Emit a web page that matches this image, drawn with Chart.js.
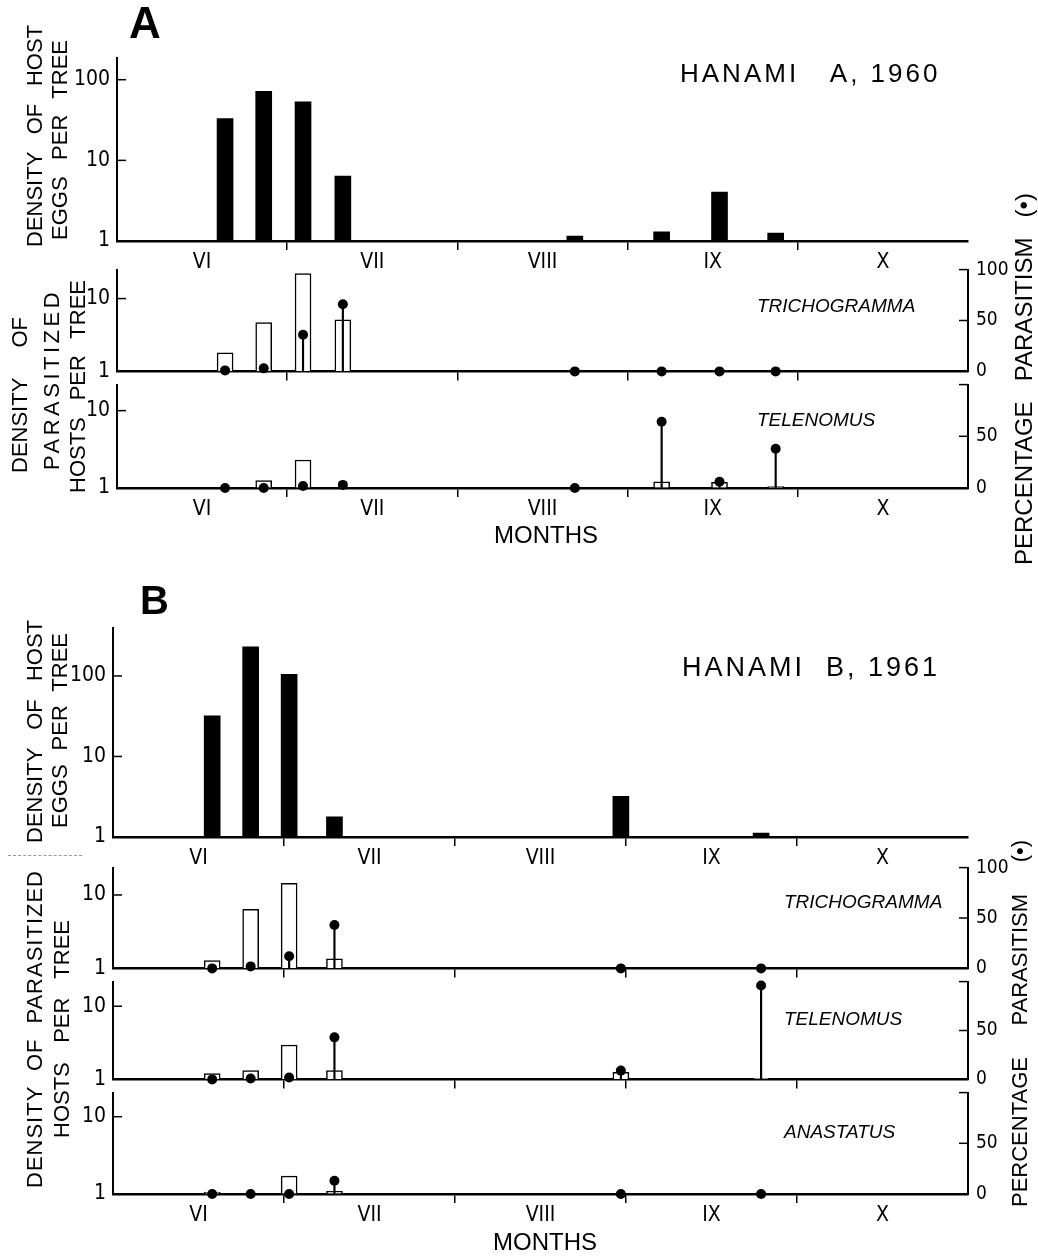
<!DOCTYPE html>
<html>
<head>
<meta charset="utf-8">
<script src="https://cdn.jsdelivr.net/npm/chart.js@4.4.1/dist/chart.umd.min.js"></script>
<style>
body { margin: 0; background: #fff; }
#page { position: relative; width: 1038px; height: 1257px; overflow: hidden; font-family: 'Liberation Sans', Arial, sans-serif; color: #000; }
canvas { position: absolute; left: 0; }
.txt { position: absolute; white-space: nowrap; line-height: 1; }
.vt { position: absolute; line-height: 1; transform-origin: 0 0; transform: rotate(-90deg); text-align: justify; text-align-last: justify; }
</style>
</head>
<body>
<div id="page"></div>
<script>
var months = ["VI", "VII", "VIII", "IX", "X"];

// A: Hanami A, 1960 (x = months since start of June)
var datesA = [0.635, 0.862, 1.093, 1.327, 2.69, 3.2, 3.54, 3.87];
var hostA = [33, 72, 53, 6.4, 1.15, 1.3, 4.05, 1.25];
var trichoA = [1.8, 4.7, 22, 5.1, null, null, null, null];
var trichoPctA = [1, 3, 36, 66, 0, 0, 0, 0];
var telenoA = [null, 1.25, 2.3, null, null, 1.2, 1.18, 1.04];
var telenoPctA = [0, 0, 2, 3, 0, 64, 6, 38];

// B: Hanami B, 1961
var datesB = [0.58, 0.805, 1.03, 1.295, 2.97, 3.79];
var hostB = [32, 229, 105, 1.78, 3.2, 1.12];
var trichoB = [1.28, 6.4, 14.4, 1.35, null, null];
var trichoPctB = [0, 2, 12, 43, 0, 0];
var telenoB = [1.2, 1.32, 2.95, 1.32, 1.25, 1.03];
var telenoPctB = [0, 1, 2, 43, 9, 96];
var anaB = [1.05, null, 1.7, 1.08, null, null];
var anaPctB = [0, 0, 0, 13, 0, 0];

var page = document.getElementById("page");
Chart.defaults.color = "#000";
Chart.defaults.font.family = "'Liberation Sans Narrow', 'DejaVu Sans Condensed', 'Liberation Sans', sans-serif";
Chart.defaults.font.size = 21;

// small tick marks pointing into the plot
var inTicks = {
    id: "inTicks",
    afterDraw: function(chart) {
        var ctx = chart.ctx, area = chart.chartArea;
        ctx.save();
        ctx.strokeStyle = "#000";
        ctx.lineWidth = 1.5;
        var y = chart.scales.y;
        [10, 100].forEach(function(v) {
            if (v < y.max) {
                var p = y.getPixelForValue(v);
                ctx.beginPath(); ctx.moveTo(area.left, p); ctx.lineTo(area.left + 9, p); ctx.stroke();
            }
        });
        var y2 = chart.scales.y2;
        if (y2) {
            [50, 100].forEach(function(v) {
                var p = y2.getPixelForValue(v);
                ctx.beginPath(); ctx.moveTo(area.right - 9, p); ctx.lineTo(area.right, p); ctx.stroke();
            });
        }
        ctx.restore();
    }
};

function pairs(xs, ys) {
    return xs.map(function(x, i) { return {x: x, y: ys[i]}; });
}

function makePlot(p) {
    var padTop = 12;
    var xh = p.months ? 42 : 14;
    var canvas = document.createElement("canvas");
    canvas.width = 1038;
    canvas.height = padTop + (p.bottom - p.top) + xh;
    canvas.style.top = (p.top - padTop) + "px";
    page.appendChild(canvas);

    var datasets = [];
    if (p.pct) {
        datasets.push({type: "scatter", yAxisID: "y2", data: pairs(p.dates, p.pct), pointRadius: 5,
            pointBackgroundColor: "#000", pointBorderWidth: 0, clip: false, order: 0});
        datasets.push({type: "bar", yAxisID: "y2", data: pairs(p.dates, p.pct), backgroundColor: "#000",
            barThickness: 1.5, grouped: false, order: 1});
    }
    datasets.push({type: "bar", yAxisID: "y", data: pairs(p.dates, p.values),
        backgroundColor: p.pct ? "#fff" : "#000", borderColor: "#000", borderWidth: p.pct ? 1.5 : 0,
        barThickness: 16, base: 1, grouped: false, order: 2});

    var scales = {
        x: {
            type: "linear", min: 0, max: 5, offset: false,
            afterBuildTicks: function(s) {
                s.ticks = [0.5, 1, 1.5, 2, 2.5, 3, 3.5, 4, 4.5].map(function(v) { return {value: v}; });
            },
            afterFit: function(s) { s.height = xh; },
            border: {color: "#000", width: 2.5},
            grid: {
                offset: false, drawOnChartArea: false, drawTicks: true, tickLength: 9, lineWidth: 1.5,
                color: function(c) { return c.tick && Number.isInteger(c.tick.value) ? "#000" : "rgba(0,0,0,0)"; }
            },
            ticks: {
                autoSkip: false, maxRotation: 0, minRotation: 0, padding: 0, font: {size: 21},
                callback: function(v) { return (p.months && !Number.isInteger(v)) ? months[Math.floor(v)] : ""; }
            }
        },
        y: {
            type: "logarithmic", min: 1, max: p.yMax, position: "left",
            afterBuildTicks: function(s) {
                s.ticks = [1, 10, 100].filter(function(v) { return v <= p.yMax; }).map(function(v) { return {value: v}; });
            },
            afterFit: function(s) { s.width = p.left; },
            border: {color: "#000", width: 2},
            grid: {drawOnChartArea: false, drawTicks: false},
            ticks: {padding: 7, callback: function(v) { return String(v); }}
        }
    };
    if (p.pct) {
        scales.y2 = {
            type: "linear", min: 0, max: 100, position: "right",
            afterBuildTicks: function(s) {
                s.ticks = [0, 50, 100].map(function(v) { return {value: v}; });
            },
            afterFit: function(s) { s.width = 1038 - p.right; },
            border: {color: "#000", width: 2},
            grid: {drawOnChartArea: false, drawTicks: false},
            ticks: {padding: 8, font: {size: 19}, callback: function(v) { return (v === 100 && !p.top100) ? "" : String(v); }}
        };
    }

    new Chart(canvas, {
        type: "bar",
        data: {datasets: datasets},
        options: {
            responsive: false,
            animation: false,
            events: [],
            layout: {padding: {top: padTop, left: 0, bottom: 0, right: p.pct ? 0 : 1038 - p.right}},
            plugins: {legend: {display: false}, tooltip: {enabled: false}},
            scales: scales
        },
        plugins: [inTicks]
    });
}

// panel A
makePlot({top: 50, bottom: 241, left: 117, right: 968, yMax: 188, dates: datesA, values: hostA, months: true});
makePlot({top: 262, bottom: 377, left: 117, right: 968, yMax: 25, dates: datesA, values: trichoA, pct: trichoPctA, top100: true});
makePlot({top: 377, bottom: 488, left: 117, right: 968, yMax: 21.7, dates: datesA, values: telenoA, pct: telenoPctA, months: true});

// panel B
makePlot({top: 620, bottom: 837, left: 113, right: 968, yMax: 398, dates: datesB, values: hostB, months: true});
makePlot({top: 860, bottom: 974, left: 113, right: 968, yMax: 23.6, dates: datesB, values: trichoB, pct: trichoPctB, top100: true});
makePlot({top: 974, bottom: 1085, left: 113, right: 968, yMax: 21.7, dates: datesB, values: telenoB, pct: telenoPctB});
makePlot({top: 1085, bottom: 1194, left: 113, right: 968, yMax: 20.5, dates: datesB, values: anaB, pct: anaPctB, months: true});

function label(text, left, top, size, extra) {
    var d = document.createElement("div");
    d.className = "txt";
    d.textContent = text;
    d.style.left = left + "px";
    d.style.top = top + "px";
    d.style.fontSize = size + "px";
    if (extra) Object.assign(d.style, extra);
    page.appendChild(d);
}

// rotated label reading bottom to top; capRight = right edge of the letters
function vlabel(text, capRight, bottom, span, size, spacing) {
    var d = document.createElement("div");
    d.className = "vt";
    d.textContent = text;
    d.style.fontSize = size + "px";
    d.style.width = span + "px";
    d.style.left = (capRight - 0.846 * size) + "px";
    d.style.top = bottom + "px";
    if (spacing) d.style.letterSpacing = spacing + "px";
    page.appendChild(d);
}

var italic = {fontStyle: "italic"};
label("A", 129, 1, 44, {fontWeight: "bold"});
label("B", 140, 580, 40, {fontWeight: "bold"});
label("HANAMI\u00a0\u00a0\u00a0A, 1960", 680, 60, 26, {letterSpacing: "3px"});
label("HANAMI\u00a0\u00a0B, 1961", 682, 654, 27, {letterSpacing: "3px"});
label("TRICHOGRAMMA", 757, 296, 19, italic);
label("TELENOMUS", 757, 410, 19, italic);
label("TRICHOGRAMMA", 784, 892, 19, italic);
label("TELENOMUS", 784, 1009, 19, italic);
label("ANASTATUS", 784, 1122, 19, italic);
label("MONTHS", 494, 523, 24);
label("MONTHS", 493, 1230, 24);

vlabel("DENSITY OF HOST", 43, 247, 222, 22);
vlabel("EGGS PER TREE", 68, 240, 200, 22);
vlabel("DENSITY OF", 28, 473, 156, 22);
vlabel("PARASITIZED", 60, 470, 190, 22, 3.5);
vlabel("HOSTS PER TREE", 86, 493, 213, 22);
vlabel("PERCENTAGE PARASITISM (\u2022)", 1032, 565, 372, 24);

vlabel("DENSITY OF HOST", 43, 843, 223, 22);
vlabel("EGGS PER TREE", 68, 828, 195, 22);
vlabel("DENSITY OF PARASITIZED", 43, 1188, 318, 22, 1);
vlabel("HOSTS PER TREE", 70, 1138, 218, 22);
vlabel("PERCENTAGE PARASITISM (\u2022)", 1028, 1207, 367, 22);

// faint scan mark left of panel B
var mark = document.createElement("div");
mark.style.cssText = "position:absolute;left:8px;top:855px;width:74px;border-top:1px dashed #999;";
page.appendChild(mark);
</script>
</body>
</html>
